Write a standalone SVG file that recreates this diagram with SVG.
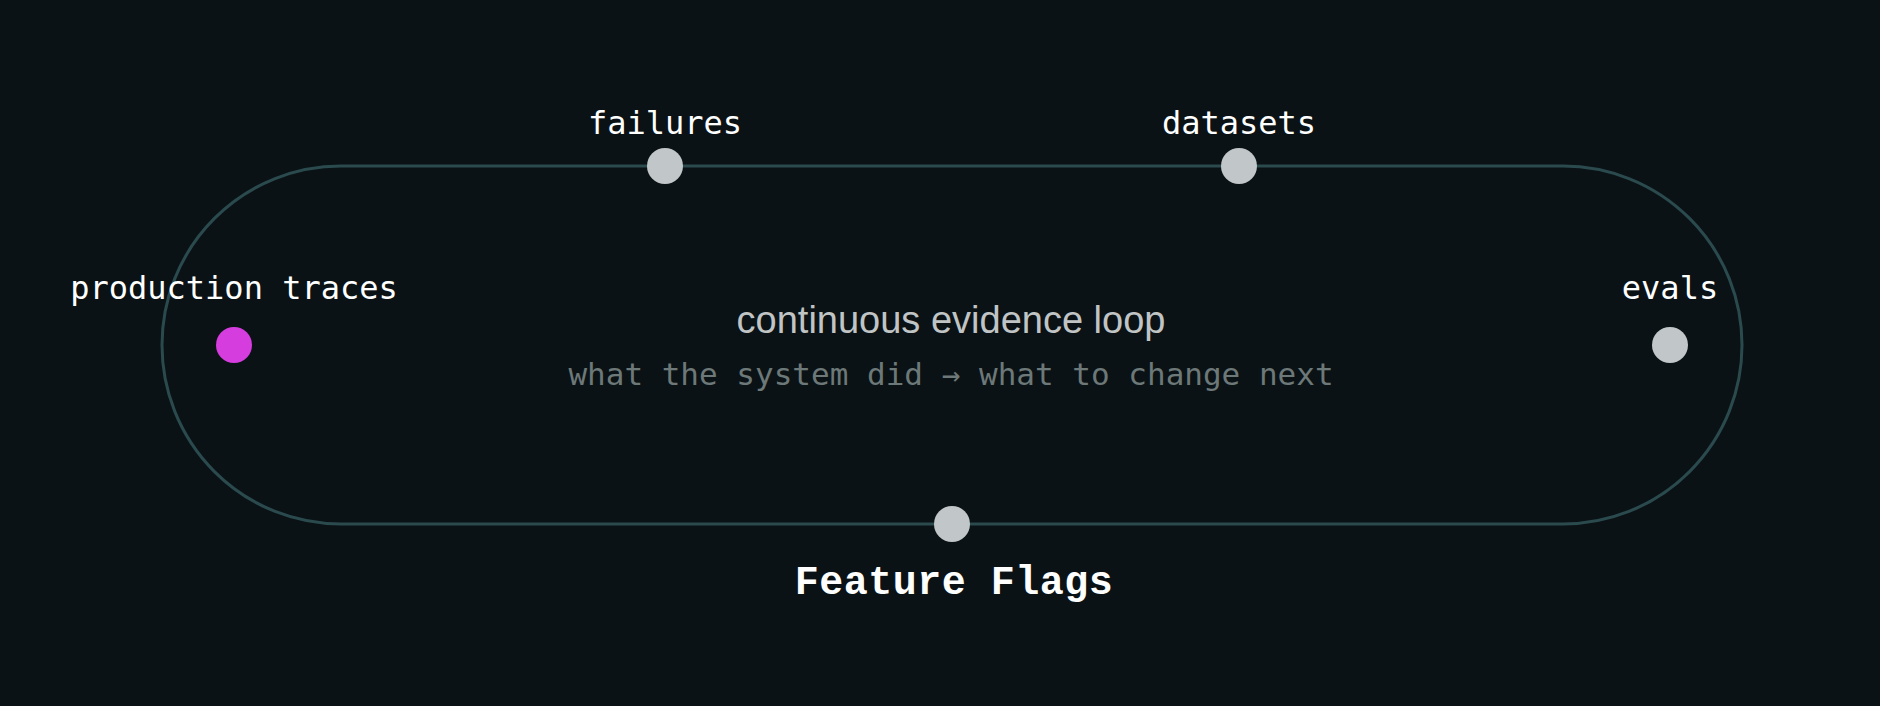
<svg xmlns="http://www.w3.org/2000/svg" width="1880" height="706" viewBox="0 0 1880 706">
<style>
.lbl{font-family:"DejaVu Sans Mono",monospace;fill:#ffffff;text-anchor:middle;font-size:32px}
.dot{fill:#c1c7c8}
</style>
<rect width="1880" height="706" fill="#0a1215"/>
<g id="connectors">
<rect x="162" y="166" width="1580" height="358" rx="179" ry="179" fill="none" stroke="#2a4a4e" stroke-width="3"/>
</g>
<g id="center">
<text x="951" y="333" font-family="Liberation Sans, Arial, sans-serif" font-size="38" fill="#c0c4c4" text-anchor="middle">continuous evidence loop</text>
<text x="951" y="385" font-family="DejaVu Sans Mono, monospace" font-size="31" fill="#6d7878" text-anchor="middle">what the system did → what to change next</text>
</g>
<g id="production-traces">
<circle cx="234" cy="345" r="18" fill="#d63ddf"/>
<text class="lbl" x="234" y="299">production traces</text>
</g>
<g id="failures">
<circle class="dot" cx="665" cy="166" r="18"/>
<text class="lbl" x="665" y="134">failures</text>
</g>
<g id="datasets">
<circle class="dot" cx="1239" cy="166" r="18"/>
<text class="lbl" x="1239" y="134">datasets</text>
</g>
<g id="evals">
<circle class="dot" cx="1670" cy="345" r="18"/>
<text class="lbl" x="1670" y="299">evals</text>
</g>
<g id="feature-flags">
<circle class="dot" cx="952" cy="524" r="18"/>
<text x="954" y="594" font-family="Liberation Mono, Courier New, monospace" font-weight="bold" font-size="40" letter-spacing="0.5" fill="#ffffff" text-anchor="middle">Feature Flags</text>
</g>
</svg>
